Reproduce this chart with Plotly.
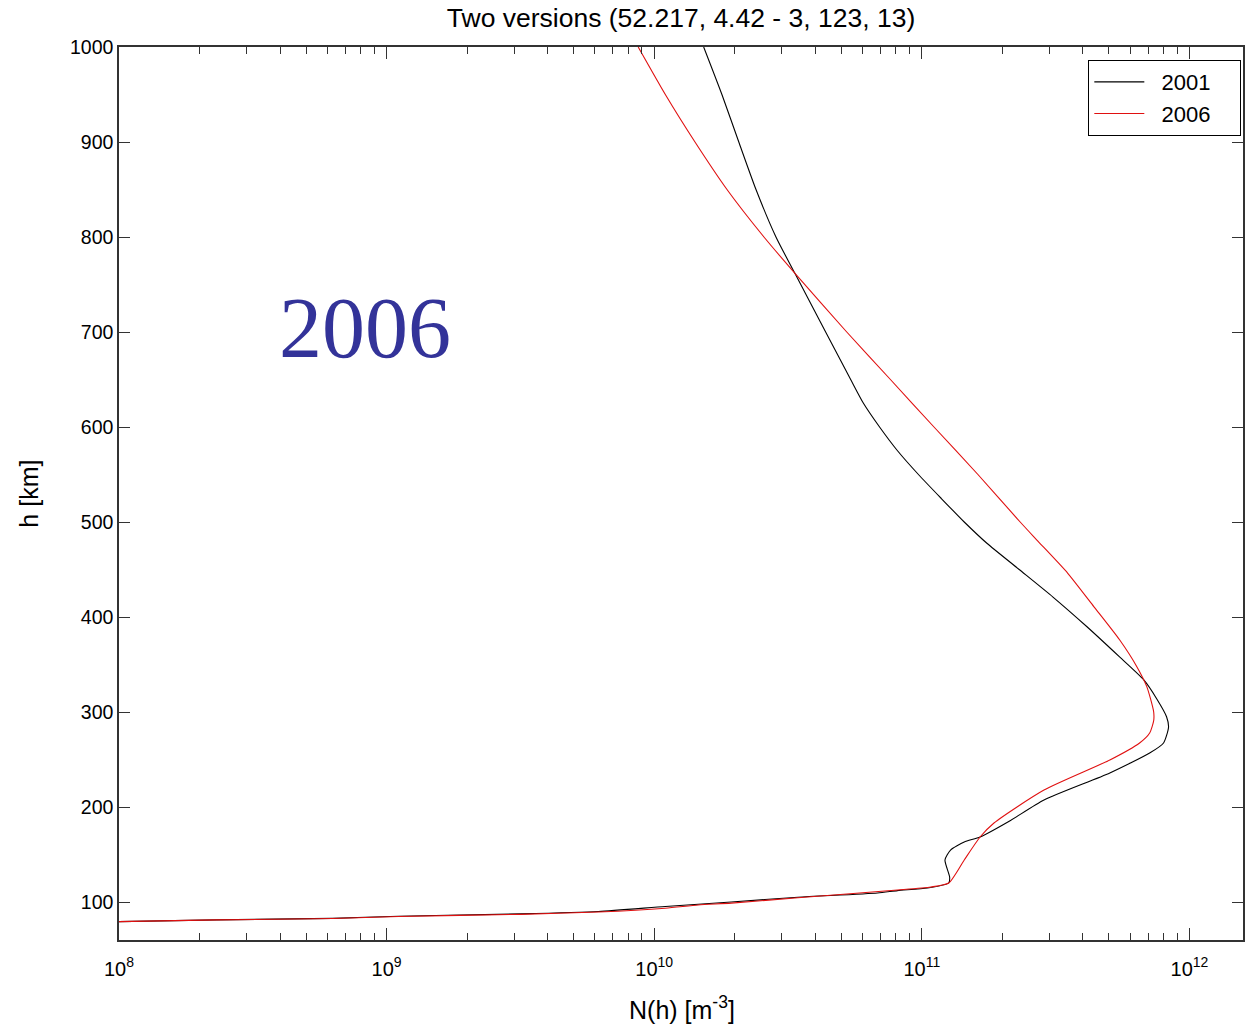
import plotly.graph_objects as go

# ---- data ----
h_2001 = [79.3, 81.2, 82.8, 85.0, 87.5, 90.0, 95.3, 100.0, 105.0, 109.5, 112.0, 114.7, 120.0,
          126.3, 144.2, 154.7, 163.2, 168.4, 185.0, 207.4, 235.8, 256.8, 267.4, 284.0, 295.0,
          314.0, 334.0, 358.0, 390.0, 421.0, 450.0, 477.6, 500.0, 525.0, 550.0, 575.0, 600.0,
          625.0, 650.0, 700.0, 762.0, 800.0, 850.0, 900.0, 950.0, 1000.0]
N_2001 = [1.00e8, 2.32e8, 6.27e8, 1.11e9, 3.16e9, 6.18e9, 1.10e10, 1.94e10, 3.44e10, 6.83e10,
          8.11e10, 1.05e11, 1.26e11, 1.27e11, 1.22e11, 1.28e11, 1.44e11, 1.65e11, 2.12e11,
          2.86e11, 5.04e11, 7.10e11, 8.00e11, 8.35e11, 8.21e11, 7.54e11, 6.74e11, 5.48e11,
          4.13e11, 3.09e11, 2.31e11, 1.75e11, 1.44e11, 1.18e11, 9.71e10, 8.11e10, 6.95e10,
          6.05e10, 5.42e10, 4.37e10, 3.35e10, 2.85e10, 2.40e10, 2.07e10, 1.79e10, 1.53e10]

h_2006 = [79.3, 81.2, 82.6, 84.8, 87.0, 89.5, 93.5, 96.8, 98.8, 104.5, 112.6, 115.8, 120.0,
          144.2, 168.4, 183.2, 217.9, 249.5, 267.4, 277.9, 291.0, 300.0, 314.0, 327.0, 348.0,
          376.0, 411.0, 446.0, 481.0, 500.0, 550.0, 600.0, 650.0, 700.0, 762.0, 800.0, 850.0,
          900.0, 950.0, 1000.0]
N_2006 = [1.00e8, 2.32e8, 6.27e8, 1.11e9, 3.16e9, 6.18e9, 1.10e10, 1.46e10, 1.94e10, 3.44e10,
          8.11e10, 1.08e11, 1.26e11, 1.44e11, 1.65e11, 1.86e11, 2.86e11, 5.04e11, 6.51e11,
          7.10e11, 7.35e11, 7.35e11, 7.15e11, 6.92e11, 6.35e11, 5.48e11, 4.39e11, 3.51e11,
          2.69e11, 2.33e11, 1.62e11, 1.11e11, 7.63e10, 5.24e10, 3.35e10, 2.57e10, 1.87e10,
          1.42e10, 1.10e10, 8.71e9]

x_tickvals = [1e8, 1e9, 1e10, 1e11, 1e12]
x_ticktext = ["10<sup>8</sup>", "10<sup>9</sup>", "10<sup>10</sup>", "10<sup>11</sup>", "10<sup>12</sup>"]
x_minor = [m * 10 ** e for e in range(8, 12) for m in range(2, 10)]
y_tickvals = [100, 200, 300, 400, 500, 600, 700, 800, 900, 1000]

title_text = "Two versions (52.217, 4.42 - 3, 123, 13)"
xlabel = "N(h) [m<sup>-3</sup>]"
ylabel = "h [km]"
big_label = "2006"
names = ["2001", "2006"]

FONT = "Liberation Sans, Arial, Helvetica, sans-serif"
AX = "#333333"
NB = "\u00a0"

fig = go.Figure()
fig.add_trace(go.Scatter(x=N_2001, y=h_2001, mode="lines", name=NB * 2 + names[0] + NB * 4,
                         line=dict(color="black", width=1.1, shape="spline", smoothing=0.6)))
fig.add_trace(go.Scatter(x=N_2006, y=h_2006, mode="lines", name=NB * 2 + names[1] + NB * 4,
                         line=dict(color="#e01010", width=1.1, shape="spline", smoothing=0.6)))

fig.update_layout(
    width=1245, height=1025,
    margin=dict(l=119, r=0, t=47, b=85),
    paper_bgcolor="white", plot_bgcolor="white",
    font=dict(family=FONT, size=19, color="black"),
    showlegend=True,
    legend=dict(x=0.9985, xanchor="right", y=0.9854, yanchor="top",
                bordercolor="black", borderwidth=1, bgcolor="white",
                font=dict(size=22, family=FONT), itemwidth=50,
                tracegroupgap=0),
    title=dict(text=title_text, x=0.5, xref="paper", xanchor="center",
               y=1 - 18 / 1025, yref="container", yanchor="middle",
               font=dict(size=26.5, family=FONT, color="black")),
)

fig.update_xaxes(type="log", range=[8, 12.2],
                 tickmode="array", tickvals=x_tickvals, ticktext=x_ticktext,
                 ticks="inside", ticklen=12, tickcolor=AX, tickwidth=1,
                 showline=True, linecolor=AX, linewidth=1.5, mirror="ticks",
                 showgrid=False, zeroline=False, ticklabelstandoff=10,
                 tickfont=dict(size=20, family=FONT),
                 minor=dict(tickmode="array", tickvals=x_minor, ticks="inside",
                            ticklen=7, tickcolor=AX, showgrid=False))
fig.update_yaxes(range=[60, 1000], tickmode="array", tickvals=y_tickvals,
                 ticks="inside", ticklen=11, tickcolor=AX, tickwidth=1,
                 showline=True, linecolor=AX, linewidth=1.5, mirror="ticks",
                 showgrid=False, zeroline=False,
                 tickfont=dict(size=19.5, family=FONT))

fig.add_annotation(text=xlabel, xref="paper", yref="paper", x=(683 - 119) / 1126,
                   y=-(1008 - 940) / 893, xanchor="center", yanchor="middle",
                   showarrow=False, font=dict(size=25, family=FONT, color="black"))
fig.add_annotation(text=ylabel, xref="paper", yref="paper", x=-(119 - 28) / 1126,
                   y=0.5, xanchor="center", yanchor="middle", textangle=-90,
                   showarrow=False, font=dict(size=25, family=FONT, color="black"))
fig.add_annotation(text=big_label, xref="paper", yref="paper", x=(365 - 119) / 1126,
                   y=(940 - 328) / 893, xanchor="center", yanchor="middle",
                   showarrow=False,
                   font=dict(size=86, family="Liberation Serif, Times New Roman, serif",
                             color="#333399"))

fig.write_html("out.html")
